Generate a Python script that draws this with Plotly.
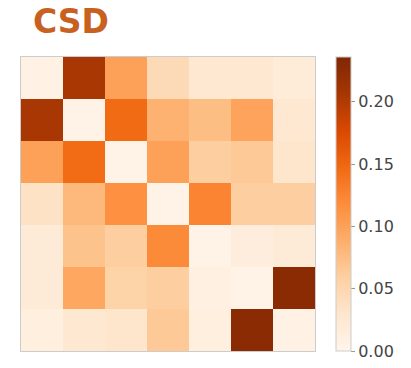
import plotly.graph_objects as go

# CSD matrix, rows listed top to bottom
labels = ["0", "1", "2", "3", "4", "5", "6"]
row0 = [0.008, 0.205, 0.100, 0.045, 0.025, 0.025, 0.018]
row1 = [0.205, 0.003, 0.147, 0.085, 0.075, 0.098, 0.025]
row2 = [0.100, 0.145, 0.003, 0.100, 0.060, 0.065, 0.030]
row3 = [0.035, 0.080, 0.115, 0.003, 0.125, 0.060, 0.060]
row4 = [0.020, 0.070, 0.060, 0.120, 0.005, 0.015, 0.020]
row5 = [0.020, 0.095, 0.055, 0.060, 0.010, 0.003, 0.228]
row6 = [0.012, 0.025, 0.030, 0.065, 0.012, 0.228, 0.008]
z = [row0, row1, row2, row3, row4, row5, row6]

cbar_ticks = [0.00, 0.05, 0.10, 0.15, 0.20]

oranges = [
    [0.0, "#fff5eb"], [0.125, "#fee6ce"], [0.25, "#fdd0a2"],
    [0.375, "#fdae6b"], [0.5, "#fd8d3c"], [0.625, "#f16913"],
    [0.75, "#d94801"], [0.875, "#a63603"], [1.0, "#7f2704"],
]

fig = go.Figure(
    go.Heatmap(
        z=z, x=labels, y=labels,
        colorscale=oranges, zmin=0.0, zmax=0.236,
        colorbar=dict(
            x=1.071, xanchor="left", xpad=0,
            y=0.5, yanchor="middle", ypad=0, len=1.0,
            thickness=15,
            outlinecolor="#cccccc", outlinewidth=1,
            tickvals=cbar_ticks, ticktext=[f"{v:.2f}" for v in cbar_ticks],
            ticks="outside", ticklen=4, tickcolor="#999999",
            tickfont=dict(family="DejaVu Sans", size=16, color="#444444"),
        ),
        hoverongaps=False,
    )
)

fig.update_xaxes(showticklabels=False, showgrid=False, zeroline=False, ticks="",
                 showline=True, mirror=True, linecolor="#cccccc", linewidth=1)
fig.update_yaxes(showticklabels=False, showgrid=False, zeroline=False, ticks="",
                 showline=True, mirror=True, linecolor="#cccccc", linewidth=1,
                 autorange="reversed")

fig.update_layout(
    width=411, height=368,
    margin=dict(l=21, r=96, t=57, b=17),
    paper_bgcolor="white", plot_bgcolor="white",
    title=dict(
        text="<b>CSD</b>",
        font=dict(family="DejaVu Sans", size=33, color="#c8601f"),
        x=33 / 411, xanchor="left", xref="container",
        y=1 - 21 / 368, yanchor="middle", yref="container",
    ),
)

fig.write_html("out.html")
